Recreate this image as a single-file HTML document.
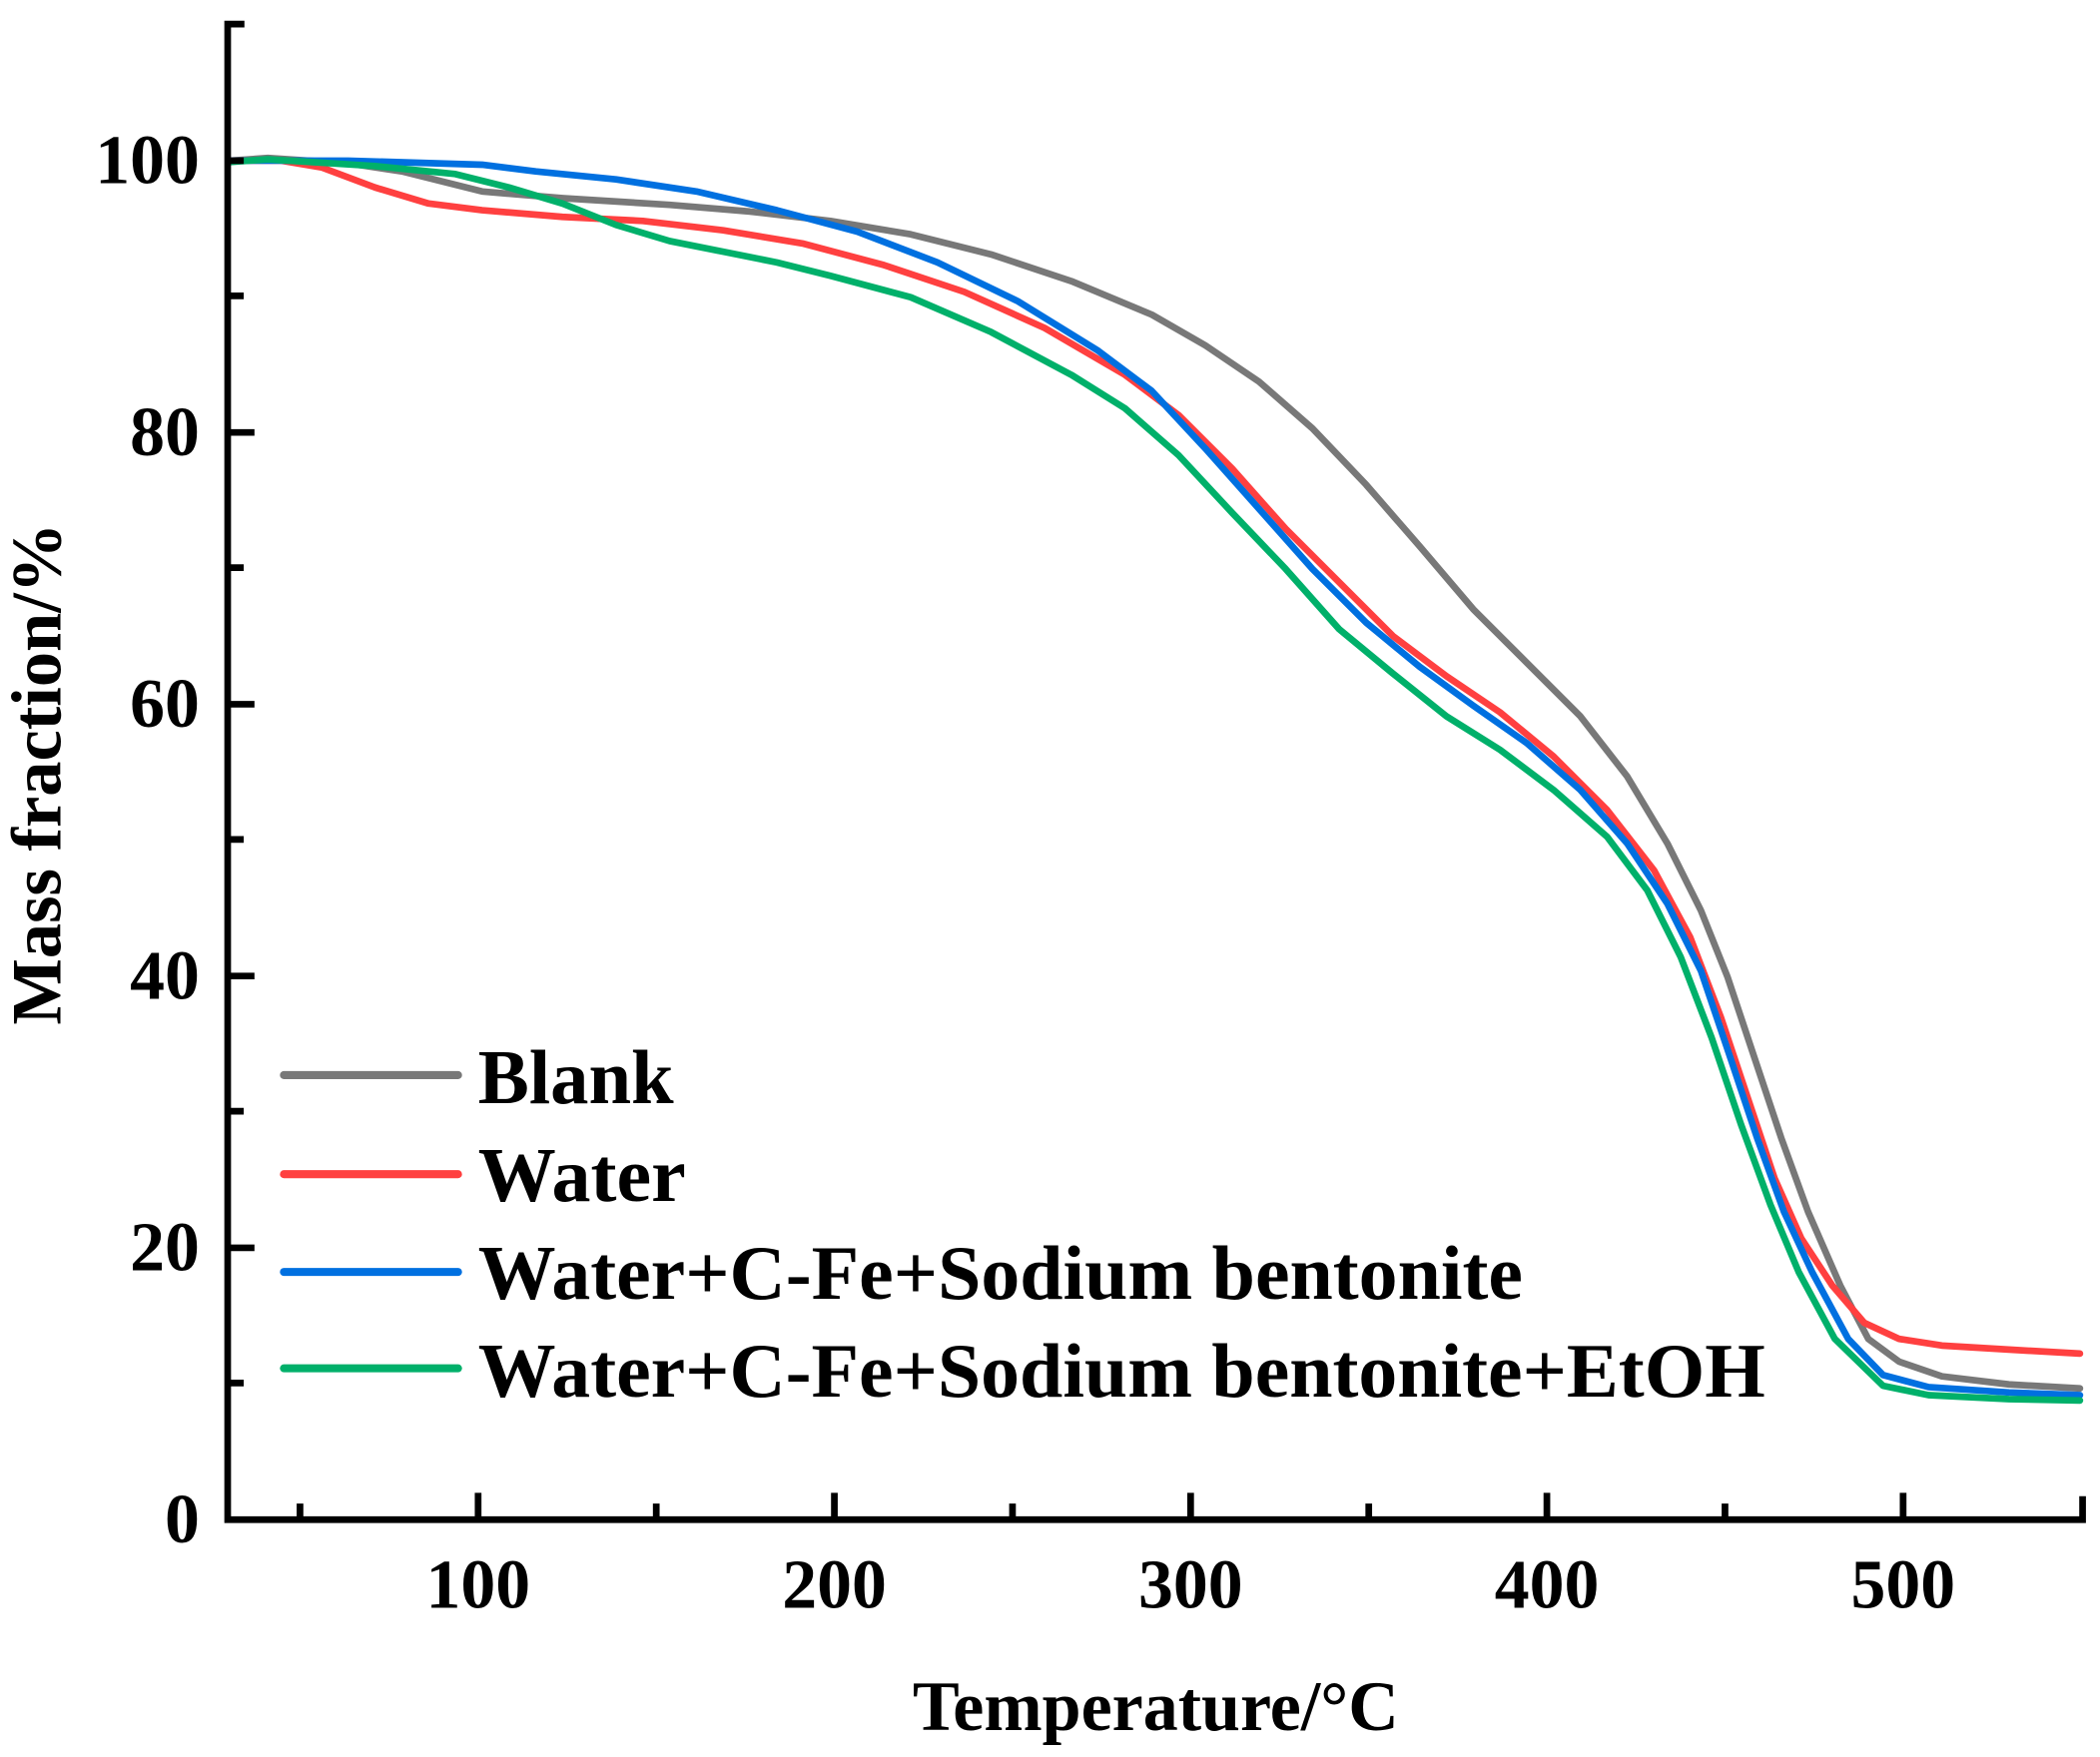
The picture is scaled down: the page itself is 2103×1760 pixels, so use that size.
<!DOCTYPE html>
<html><head><meta charset="utf-8"><style>
html,body{margin:0;padding:0;background:#fff;}
svg{display:block;}
text{font-family:"Liberation Serif",serif;font-weight:bold;fill:#000;}
</style></head><body>
<svg width="2103" height="1760" viewBox="0 0 1568 1312.3" preserveAspectRatio="none" xmlns="http://www.w3.org/2000/svg">
<g fill="none" stroke-linejoin="round" stroke-linecap="round" stroke-width="5">
<polyline stroke="#787878" points="172,120 200,118 260,122 300,128 360,143 420,148 500,153 560,158 620,165 680,175 740,190 800,210 860,235 900,258 940,285 980,320 1020,362 1060,408 1100,455 1140,495 1180,535 1215,580 1245,630 1270,680 1290,730 1310,790 1330,850 1350,905 1374,960 1395,1000 1418,1017 1450,1028 1500,1034 1553,1037"/>
<polyline stroke="#ff4040" points="172,120 210,120 240,125 280,140 320,152 360,157 420,162 480,165 540,172 600,182 660,198 720,218 780,245 840,280 880,310 920,350 960,395 1000,435 1040,475 1080,505 1120,532 1160,565 1200,605 1235,650 1262,700 1285,760 1305,820 1325,880 1345,925 1368,960 1392,988 1418,1000 1450,1005 1500,1008 1553,1011"/>
<polyline stroke="#0070e0" points="172,120 260,120 360,123 400,128 460,134 520,143 580,157 640,173 700,196 760,225 820,262 860,292 900,335 940,380 980,425 1020,465 1060,498 1100,527 1140,555 1180,590 1215,630 1245,675 1270,725 1292,790 1312,850 1332,905 1353,950 1380,1000 1406,1027 1440,1036 1500,1040 1553,1042"/>
<polyline stroke="#00b06a" points="172,121 200,119 280,124 340,130 380,140 420,152 460,168 500,180 540,188 580,196 620,206 680,222 740,248 800,280 840,305 880,340 920,383 960,425 1000,470 1040,503 1080,535 1120,560 1160,590 1200,625 1230,665 1255,715 1278,775 1300,840 1322,900 1343,950 1370,1000 1406,1035 1440,1042 1500,1045 1553,1046"/>
</g>
<g stroke="#000" stroke-width="5" fill="none">
<polyline points="180,18 170,18 170,1135 1555,1135 1555,1120" stroke-linecap="square"/>
<path d="M170,120h12M170,323h20M170,526h20M170,729h20M170,932h20M170,221h12M170,424h12M170,627h12M170,830h12M170,1033h12"/>
<path d="M357,1135v-20M623,1135v-20M889,1135v-20M1155,1135v-20M1421,1135v-20M224,1135v-12M490,1135v-12M756,1135v-12M1022,1135v-12M1288,1135v-12"/>
</g>
<g font-size="52" text-anchor="end">
<text x="149" y="137">100</text><text x="149" y="340">80</text><text x="149" y="543">60</text>
<text x="149" y="746">40</text><text x="149" y="949">20</text><text x="149" y="1152">0</text>
</g>
<g font-size="52" text-anchor="middle">
<text x="357" y="1201">100</text><text x="623" y="1201">200</text><text x="889" y="1201">300</text>
<text x="1155" y="1201">400</text><text x="1421" y="1201">500</text>
</g>
<text x="863" y="1292" font-size="53" text-anchor="middle" textLength="363" lengthAdjust="spacingAndGlyphs">Temperature/°C</text>
<text transform="translate(45,578) rotate(-90)" font-size="53" text-anchor="middle" textLength="375" lengthAdjust="spacingAndGlyphs">Mass fraction/%</text>
<g stroke-width="6" stroke-linecap="round">
<line x1="212" y1="803" x2="342" y2="803" stroke="#787878"/>
<line x1="212" y1="877" x2="342" y2="877" stroke="#ff4040"/>
<line x1="212" y1="950" x2="342" y2="950" stroke="#0070e0"/>
<line x1="212" y1="1022" x2="342" y2="1022" stroke="#00b06a"/>
</g>
<g font-size="58">
<text x="357" y="824" textLength="146" lengthAdjust="spacingAndGlyphs">Blank</text>
<text x="357" y="897" textLength="155" lengthAdjust="spacingAndGlyphs">Water</text>
<text x="357" y="970" textLength="780" lengthAdjust="spacingAndGlyphs">Water+C-Fe+Sodium bentonite</text>
<text x="357" y="1043" textLength="961" lengthAdjust="spacingAndGlyphs">Water+C-Fe+Sodium bentonite+EtOH</text>
</g>
</svg>
</body></html>
